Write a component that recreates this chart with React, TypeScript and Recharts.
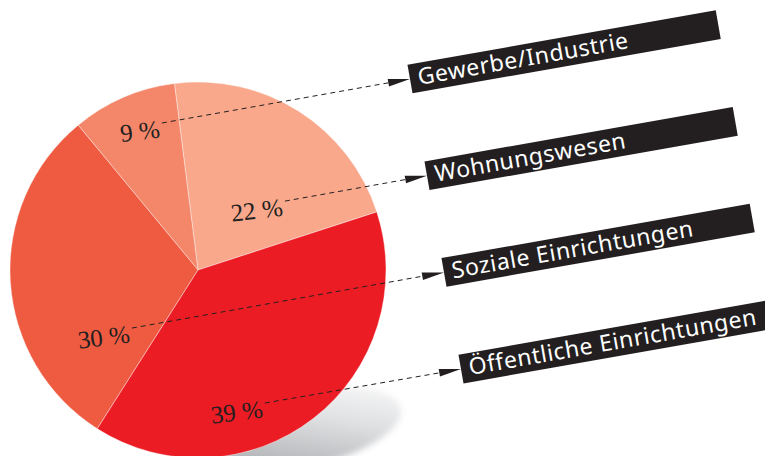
import React from "react";
import { PieChart, Pie, Cell } from "recharts";

// legend order (top to bottom on the right)
const categories = ["Gewerbe/Industrie", "Wohnungswesen", "Soziale Einrichtungen", "Öffentliche Einrichtungen"];
const shares = [9, 22, 30, 39];
const sliceColors = ["#F4866A", "#F9A88C", "#EF5B41", "#EC1C24"];
// order of slices counterclockwise from the start angle
const pieOrder = [1, 0, 2, 3];

const data = pieOrder.map((i) => ({ name: categories[i], value: shares[i], fill: sliceColors[i], row: i }));

// where the leader line starts, relative to each slice's mid angle (per legend row)
const labelPlacement = [
  { shift: -9.6, r: 0.805 },
  { shift: -19.2, r: 0.59 },
  { shift: 37.7, r: 0.468 },
  { shift: -11.1, r: 0.792 },
];

const INK = "#231F20";
const BOX_ORIGIN = { x: 410, y: 79 };
const BOX_STEP = { x: 17, y: 96.7 };
const BOX_ANGLE = -10;
const RAD = Math.PI / 180;

function renderLabel(props: any) {
  const { cx, cy, midAngle, outerRadius, index, value } = props;
  const row = pieOrder[index];
  const place = labelPlacement[row];
  const ang = (midAngle + place.shift) * RAD;
  const ax = cx + outerRadius * place.r * Math.cos(ang);
  const ay = cy - outerRadius * place.r * Math.sin(ang);

  const tx = BOX_ORIGIN.x + BOX_STEP.x * row;
  const ty = BOX_ORIGIN.y + BOX_STEP.y * row;
  const dx = tx - ax;
  const dy = ty - ay;
  const len = Math.sqrt(dx * dx + dy * dy);
  const ux = dx / len;
  const uy = dy / len;
  const bx = tx - 22 * ux;
  const by = ty - 22 * uy;
  const nx = -uy * 3.8;
  const ny = ux * 3.8;

  return (
    <g key={`lbl-${index}`}>
      <g transform={`translate(${ax},${ay}) rotate(-7)`}>
        <text x={-3} y={14} textAnchor="end" fontSize={25} fontFamily="'Liberation Serif', serif" fill={INK}>
          {`${value}\u00A0%`}
        </text>
      </g>
      <line x1={ax} y1={ay} x2={bx} y2={by} stroke={INK} strokeWidth={1} strokeDasharray="5 4" />
      <polygon points={`${tx},${ty} ${bx + nx},${by + ny} ${bx - nx},${by - ny}`} fill={INK} />
      <g transform={`translate(${tx},${ty}) rotate(${BOX_ANGLE})`}>
        <rect x={0} y={-14.5} width={313} height={29} fill={INK} />
        <text x={8} y={7.5} fontSize={23} letterSpacing={0.6} fontFamily="'Noto Sans', sans-serif" fill="#FFFFFF">
          {categories[row]}
        </text>
      </g>
    </g>
  );
}

export default function App() {
  return (
    <div style={{ position: "absolute", left: 0, top: 0, width: 765, height: 456, background: "#fff", overflow: "hidden" }}>
      <svg width={765} height={456} style={{ position: "absolute", left: 0, top: 0 }}>
        <defs>
          <linearGradient id="shadeGrad" x1="0" y1="1" x2="1" y2="0">
            <stop offset="0.15" stopColor="#a9abae" />
            <stop offset="0.6" stopColor="#dfe0e2" />
            <stop offset="1" stopColor="#ffffff" />
          </linearGradient>
          <filter id="shadeBlur" x="-20%" y="-40%" width="140%" height="180%">
            <feGaussianBlur stdDeviation="3" />
          </filter>
        </defs>
        <ellipse cx={300} cy={430} rx={103} ry={38} transform="rotate(-12 300 430)" fill="url(#shadeGrad)" filter="url(#shadeBlur)" />
      </svg>
      <div style={{ position: "absolute", left: 0, top: 0 }}>
        <PieChart width={765} height={456} margin={{ top: 0, right: 0, bottom: 0, left: 0 }}>
          <Pie
            data={data}
            dataKey="value"
            nameKey="name"
            cx={198}
            cy={270}
            outerRadius={188}
            startAngle={18}
            endAngle={378}
            stroke="#ffffff"
            strokeWidth={0.4}
            labelLine={false}
            label={renderLabel}
            isAnimationActive={false}
          >
            {data.map((d) => (
              <Cell key={d.name} fill={d.fill} />
            ))}
          </Pie>
        </PieChart>
      </div>
    </div>
  );
}
